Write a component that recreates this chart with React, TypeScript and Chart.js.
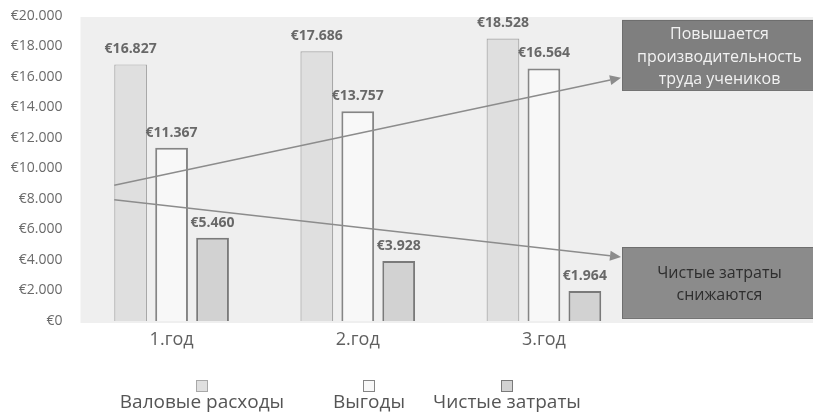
import React, { useEffect, useRef } from "react";
import { Chart, registerables } from "chart.js";

Chart.register(...registerables);

const categories = ["1.год", "2.год", "3.год"];
const seriesNames = ["Валовые расходы", "Выгоды", "Чистые затраты"];
const grossCosts = [16827, 17686, 18528];
const benefits = [11367, 13757, 16564];
const netCosts = [5460, 3928, 1964];
const yTickMin = 0;
const yTickMax = 20000;
const yTickStep = 2000;

// annotation boxes: [top value, bottom value], text lines
const boxTexts = [
  ["Повышается", "производительность", "труда учеников"],
  ["Чистые затраты", "снижаются"],
];
const boxRanges = [
  [19740, 15150],
  [4850, 200],
];
// arrows: start value (at first bar left edge) -> end value (at box left edge)
const arrowStarts = [8900, 7950];
const arrowEnds = [15950, 4200];

const FONT = "'Open Sans', 'Noto Sans', sans-serif";

const fmt = (v: number) =>
  "€" + String(Math.round(v)).replace(/\B(?=(\d{3})+(?!\d))/g, ".");

const fills = ["#dfdfdf", "#f8f8f8", "#d2d2d2"];
const borders = ["#a8a8a8", "#858585", "#7a7a7a"];
const borderWidths = [1.2, 2, 2];

const decorPlugin = {
  id: "decor",
  beforeDraw(chart: any) {
    const { ctx, chartArea, width } = chart;
    ctx.save();
    ctx.fillStyle = "#efefef";
    ctx.fillRect(chartArea.left + 2, chartArea.top + 1, width - chartArea.left - 2, chartArea.bottom - chartArea.top + 1);
    ctx.restore();
  },
  afterDatasetsDraw(chart: any) {
    const { ctx, chartArea, width } = chart;
    const yScale = chart.scales.y;
    ctx.save();
    // value labels
    ctx.font = `bold 14px ${FONT}`;
    ctx.fillStyle = "#686868";
    ctx.textAlign = "center";
    ctx.textBaseline = "middle";
    chart.data.datasets.forEach((ds: any, i: number) => {
      const meta = chart.getDatasetMeta(i);
      meta.data.forEach((el: any, j: number) => {
        ctx.fillText(fmt(ds.data[j]), el.x, el.y - 15);
      });
    });
    // boxes
    const boxLeft = chartArea.right - 15;
    boxRanges.forEach((r, i) => {
      const top = yScale.getPixelForValue(r[0]);
      const bottom = yScale.getPixelForValue(r[1]);
      ctx.fillStyle = i === 0 ? "#7f7f7f" : "#8b8b8b";
      ctx.fillRect(boxLeft, top, width - boxLeft, bottom - top);
      ctx.strokeStyle = "#6e6e6e";
      ctx.lineWidth = 1;
      ctx.strokeRect(boxLeft + 0.5, top + 0.5, width - boxLeft, bottom - top);
      ctx.fillStyle = i === 0 ? "#f2f2f2" : "#2e2e2e";
      ctx.font = `16px ${FONT}`;
      const lines = boxTexts[i];
      const lh = 22.5;
      const cx = boxLeft + (width - boxLeft) / 2 + 2;
      const cy = (top + bottom) / 2 + 2;
      lines.forEach((t, k) => {
        ctx.fillText(t, cx, cy + (k - (lines.length - 1) / 2) * lh);
      });
    });
    // arrows
    const firstBar = chart.getDatasetMeta(0).data[0];
    const sx = firstBar.x - firstBar.width / 2;
    arrowStarts.forEach((sv, i) => {
      const sy = yScale.getPixelForValue(sv);
      const ex = boxLeft - 1;
      const ey = yScale.getPixelForValue(arrowEnds[i]);
      const ang = Math.atan2(ey - sy, ex - sx);
      const hl = 11;
      const hw = 5;
      ctx.strokeStyle = "#8c8c8c";
      ctx.fillStyle = "#8c8c8c";
      ctx.lineWidth = 1.4;
      ctx.beginPath();
      ctx.moveTo(sx, sy);
      ctx.lineTo(ex - hl * Math.cos(ang), ey - hl * Math.sin(ang));
      ctx.stroke();
      ctx.beginPath();
      ctx.moveTo(ex, ey);
      ctx.lineTo(ex - hl * Math.cos(ang) + hw * Math.sin(ang), ey - hl * Math.sin(ang) - hw * Math.cos(ang));
      ctx.lineTo(ex - hl * Math.cos(ang) - hw * Math.sin(ang), ey - hl * Math.sin(ang) + hw * Math.cos(ang));
      ctx.closePath();
      ctx.fill();
    });
    ctx.restore();
  },
  afterDraw(chart: any) {
    const { ctx } = chart;
    const centers = [202, 369, 507];
    ctx.save();
    chart.data.datasets.forEach((ds: any, i: number) => {
      const cx = centers[i];
      ctx.fillStyle = ds.backgroundColor;
      ctx.fillRect(cx - 6, 380, 12, 12);
      ctx.strokeStyle = ds.borderColor;
      ctx.lineWidth = 1;
      ctx.strokeRect(cx - 5.5, 380.5, 11, 11);
      ctx.fillStyle = "#555555";
      ctx.font = `19px ${FONT}`;
      ctx.textAlign = "center";
      ctx.textBaseline = "middle";
      ctx.fillText(ds.label, cx, 403);
    });
    ctx.restore();
  },
};

export default function App() {
  const ref = useRef<HTMLCanvasElement>(null);
  useEffect(() => {
    if (!ref.current) return;
    const seriesData = [grossCosts, benefits, netCosts];
    const chart = new Chart(ref.current, {
      type: "bar",
      data: {
        labels: categories,
        datasets: seriesData.map((d, i) => ({
          label: seriesNames[i],
          data: d,
          backgroundColor: fills[i],
          borderColor: borders[i],
          borderWidth: borderWidths[i],
          categoryPercentage: 0.66,
          barPercentage: 0.8,
        })),
      },
      options: {
        animation: false,
        responsive: true,
        maintainAspectRatio: false,
        layout: { padding: { top: 16, right: 176, bottom: 0, left: 0 } },
        plugins: { legend: { display: false }, tooltip: { enabled: false } },
        scales: {
          x: {
            grid: { display: false, drawTicks: false },
            border: { display: false },
            ticks: { color: "#606060", font: { family: FONT, size: 18 }, padding: 8 },
            afterFit: (s: any) => {
              s.height = 93;
              s.paddingLeft = 0;
              s.paddingRight = 0;
            },
          },
          y: {
            min: yTickMin,
            max: yTickMax,
            grid: { display: false, drawTicks: false },
            border: { display: false },
            ticks: {
              stepSize: yTickStep,
              color: "#6a6a6a",
              font: { family: FONT, size: 14 },
              padding: 16,
              callback: (v: any) => fmt(Number(v)),
            },
            afterFit: (s: any) => {
              s.width = 78.5;
              s.paddingTop = 0;
              s.paddingBottom = 0;
            },
          },
        },
      },
      plugins: [decorPlugin],
    });
    return () => chart.destroy();
  }, []);
  return (
    <div style={{ position: "fixed", left: 0, top: 0, width: 813, height: 414, background: "#fff" }}>
      <canvas ref={ref} />
    </div>
  );
}
